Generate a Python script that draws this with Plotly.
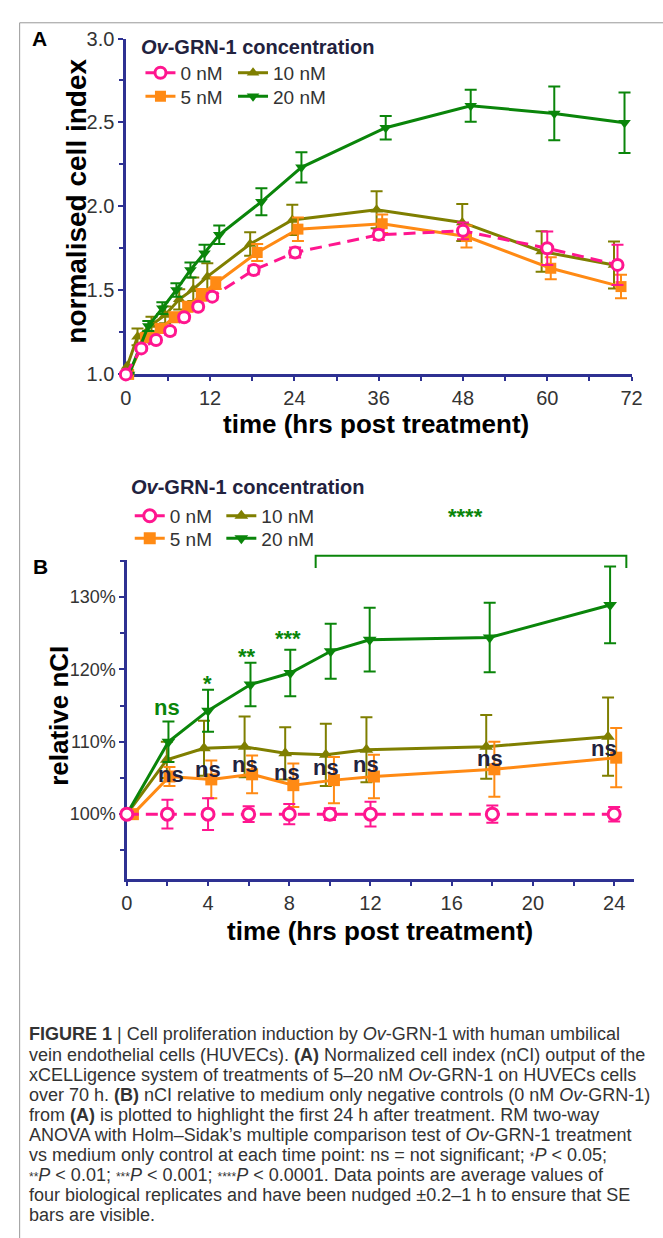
import plotly.graph_objects as go

# ---------------- data: panel A (normalised cell index) ----------------
a_t_0 = [0, 2.2, 4.3, 6.3, 8.3, 10.3, 12.3, 18.2, 24.1, 36.0, 48.0, 60.0, 70.0]
a_v_0 = [1.0, 1.155, 1.205, 1.258, 1.34, 1.403, 1.463, 1.622, 1.726, 1.831, 1.855, 1.751, 1.652]
a_e_0 = [None, 0.015, 0.015, 0.02, 0.02, 0.02, 0.02, 0.025, 0.03, 0.03, 0.05, 0.10, 0.12]

a_t_5 = [0.4, 2.8, 4.9, 6.9, 8.8, 10.75, 12.8, 18.7, 24.5, 36.5, 48.5, 60.5, 70.5]
a_v_5 = [1.0, 1.218, 1.274, 1.34, 1.403, 1.473, 1.543, 1.726, 1.865, 1.897, 1.821, 1.632, 1.523]
a_e_5 = [None, 0.025, 0.025, 0.03, 0.03, 0.035, 0.035, 0.05, 0.07, 0.055, 0.065, 0.065, 0.07]

a_t_10 = [0.2, 1.66, 3.65, 5.6, 7.6, 9.6, 11.6, 17.7, 23.7, 35.7, 47.9, 59.2, 69.5]
a_v_10 = [1.05, 1.224, 1.294, 1.354, 1.447, 1.507, 1.582, 1.776, 1.92, 1.98, 1.905, 1.732, 1.652]
a_e_10 = [None, 0.05, 0.05, 0.05, 0.06, 0.07, 0.08, 0.07, 0.09, 0.11, 0.11, 0.12, 0.14]

a_t_20 = [0.45, 3.2, 5.2, 7.2, 9.2, 11.2, 13.3, 19.3, 25.0, 37.0, 49.1, 61.0, 71.0]
a_v_20 = [1.0, 1.288, 1.394, 1.503, 1.622, 1.722, 1.831, 2.028, 2.233, 2.469, 2.60, 2.554, 2.499]
a_e_20 = [None, 0.03, 0.035, 0.04, 0.045, 0.05, 0.055, 0.08, 0.09, 0.07, 0.095, 0.16, 0.18]

# ---------------- data: panel B (relative nCI, %) ----------------
b_t_0 = [0, 2, 4, 6, 8, 10, 12, 18, 24]
b_v_0 = [100, 100, 100, 100, 100, 100, 100, 100, 100]
b_e_0 = [None, 2.0, 2.2, 1.1, 1.4, 0.8, 1.7, 1.2, 1.0]

b_t_5 = [0.3, 2.1, 4.16, 6.17, 8.2, 10.2, 12.17, 18.1, 24.1]
b_v_5 = [100, 105.2, 104.8, 105.5, 104.0, 104.7, 105.2, 106.2, 107.8]
b_e_5 = [None, 1.3, 2.6, 2.6, 3.0, 3.2, 3.0, 3.8, 4.1]

b_t_10 = [0, 1.97, 3.8, 5.8, 7.8, 9.8, 11.8, 17.7, 23.7]
b_v_10 = [100, 107.5, 109.1, 109.3, 108.4, 108.2, 108.9, 109.3, 110.7]
b_e_10 = [None, 2.5, 3.8, 4.2, 3.6, 4.3, 4.5, 4.4, 5.4]

b_t_20 = [0, 2.05, 4.0, 6.09, 8.05, 10.04, 11.96, 17.87, 23.8]
b_v_20 = [100, 110.0, 114.3, 117.9, 119.5, 122.5, 124.1, 124.4, 128.9]
b_e_20 = [None, 2.8, 2.9, 3.0, 3.2, 3.8, 4.4, 4.8, 5.3]

# significance labels (panel B)
sig_green_labels = ["ns", "*", "**", "***"]
sig_green_x = [2.0, 3.95, 5.9, 7.95]
sig_green_y = [114.8, 118.0, 121.8, 124.2]
ns_x = [2.2, 4.0, 5.8, 7.9, 9.8, 11.8, 17.9, 23.5]
ns_y = [105.5, 106.2, 106.8, 105.8, 106.5, 106.8, 107.7, 109.1]
bracket_x = [9.3, 24.6]
bracket_y = [134.0, 135.7]
bracket_label = "****"

series_names = ["0 nM", "5 nM", "10 nM", "20 nM"]

# ---------------- styling ----------------
W, H = 663, 1238
NAVY = "#2E3192"
PINK = "#FF168F"
ORANGE = "#FF8A14"
OLIVE = "#7F7F00"
GREEN = "#0A850A"
DARK = "#22223E"
TXT = "#333333"
FONT = "Liberation Sans, Arial, sans-serif"

def px(x):
    return x / W

def py(y):
    return 1 - y / H

# plot areas in pixels
A_X = (123, 642); A_Y = (28, 370)
B_X = (124, 645); B_Y = (559, 884)
B_XR = [0, 25]; B_YR = [91, 135.1]

def b_paper_x(h):
    return px(B_X[0] + (h - B_XR[0]) / (B_XR[1] - B_XR[0]) * (B_X[1] - B_X[0]))

def b_paper_y(v):
    return py(B_Y[1] - (v - B_YR[0]) / (B_YR[1] - B_YR[0]) * (B_Y[1] - B_Y[0]))

fig = go.Figure()

specs = {
    "0 nM": dict(color=PINK, symbol="circle", fill="white", dash="12px,7px", col=0, row=0),
    "5 nM": dict(color=ORANGE, symbol="square", fill=ORANGE, dash="solid", col=0, row=1),
    "10 nM": dict(color=OLIVE, symbol="triangle-up", fill=OLIVE, dash="solid", col=1, row=0),
    "20 nM": dict(color=GREEN, symbol="triangle-down", fill=GREEN, dash="solid", col=1, row=1),
}

a_data = {"0 nM": (a_t_0, a_v_0, a_e_0), "5 nM": (a_t_5, a_v_5, a_e_5),
          "10 nM": (a_t_10, a_v_10, a_e_10), "20 nM": (a_t_20, a_v_20, a_e_20)}
b_data = {"0 nM": (b_t_0, b_v_0, b_e_0), "5 nM": (b_t_5, b_v_5, b_e_5),
          "10 nM": (b_t_10, b_v_10, b_e_10), "20 nM": (b_t_20, b_v_20, b_e_20)}

draw_order = ["10 nM", "5 nM", "20 nM", "0 nM"]

# one single-entry legend per series and panel, placed as in the reference grid
legend_pos = {
    "A": dict(cols=[138, 233], rows=[63, 87]),
    "B": dict(cols=[127, 221], rows=[514, 537]),
}
leg_common = dict(orientation="v", xanchor="left", yanchor="middle", bgcolor="rgba(0,0,0,0)",
                  font=dict(size=19, color=TXT, family=FONT), tracegroupgap=0,
                  itemwidth=30, itemclick=False, itemdoubleclick=False)
legend_layout = {}
leg_idx = 0

for panel, data, xa, ya, msize in [("A", a_data, "x", "y", 11), ("B", b_data, "x2", "y2", 12)]:
    for name in draw_order:
        s = specs[name]
        t, v, e = data[name]
        leg_idx += 1
        lname = "legend" if leg_idx == 1 else "legend%d" % leg_idx
        lp = legend_pos[panel]
        legend_layout[lname] = dict(x=px(lp["cols"][s["col"]]), y=py(lp["rows"][s["row"]]), **leg_common)
        fig.add_trace(go.Scatter(
            x=t, y=v, name=name, mode="lines+markers",
            xaxis=xa, yaxis=ya, legend=lname,
            line=dict(color=s["color"], width=3, dash=s["dash"]),
            marker=dict(symbol=s["symbol"], size=msize, color=s["fill"],
                        line=dict(color=s["color"], width=3 if name == "0 nM" else 0)),
            error_y=dict(type="data", array=e, visible=True, color=s["color"],
                         thickness=2, width=6),
            cliponaxis=False, showlegend=True,
        ))

axis_common = dict(showline=True, linecolor=NAVY, linewidth=2.5, showgrid=False,
                   zeroline=False, ticks="outside", tickcolor=NAVY, tickwidth=2,
                   layer="below traces", fixedrange=True)

fig.update_layout(
    width=W, height=H, autosize=False,
    margin=dict(l=0, r=0, t=0, b=0),
    paper_bgcolor="white", plot_bgcolor="white",
    font=dict(family=FONT, color=TXT),
    xaxis=dict(domain=[px(A_X[0]), px(A_X[1])], range=[0, 72], anchor="y",
               tickmode="linear", tick0=0, dtick=12, ticklen=4,
               minor=dict(dtick=6, ticks="outside", ticklen=4, tickcolor=NAVY, tickwidth=2),
               tickfont=dict(size=20, color=TXT), **axis_common),
    yaxis=dict(domain=[py(A_Y[1]), py(A_Y[0])], range=[1, 3], anchor="x",
               tickmode="linear", tick0=1, dtick=0.5, tickformat=".1f", ticklen=5,
               minor=dict(dtick=0.25, ticks="outside", ticklen=4, tickcolor=NAVY, tickwidth=2),
               tickfont=dict(size=20, color=TXT), **axis_common),
    xaxis2=dict(domain=[px(B_X[0]), px(B_X[1])], range=B_XR, anchor="y2",
                tickmode="linear", tick0=0, dtick=4, ticklen=4,
                minor=dict(dtick=2, ticks="outside", ticklen=4, tickcolor=NAVY, tickwidth=2),
                tickfont=dict(size=20, color=TXT), **axis_common),
    yaxis2=dict(domain=[py(B_Y[1]), py(B_Y[0])], range=B_YR, anchor="x2",
                tickmode="linear", tick0=100, dtick=10, ticksuffix="%", ticklen=5,
                minor=dict(dtick=5, tick0=95, ticks="outside", ticklen=4, tickcolor=NAVY, tickwidth=2),
                tickfont=dict(size=18, color=TXT), **axis_common),
    **legend_layout,
)

ann = []
def text(x, y, s, size, color=TXT, bold=False, angle=0, xanchor="center", xref="paper", yref="paper"):
    ann.append(dict(x=x, y=y, xref=xref, yref=yref, text=("<b>%s</b>" % s) if bold else s,
                    showarrow=False, textangle=angle, xanchor=xanchor, yanchor="middle",
                    font=dict(size=size, color=color, family=FONT)))

# panel letters
text(px(34), py(28), "A", 21, "black", True)
text(px(35), py(566), "B", 21, "black", True)
# legend titles
text(px(258), py(37), "<i>Ov</i>-GRN-1 concentration", 20, DARK, True)
text(px(248), py(485), "<i>Ov</i>-GRN-1 concentration", 20, DARK, True)
# axis titles
text(px(380), py(420), "time (hrs post treatment)", 26, "black", True)
text(px(72), py(194), "normalised cell index", 28, "black", True, angle=-90)
text(px(384), py(937), "time (hrs post treatment)", 26, "black", True)
text(px(55), py(718), "relative nCI", 26, "black", True, angle=-90)

# significance labels
for lab, x, y in zip(sig_green_labels, sig_green_x, sig_green_y):
    text(x, y, lab, 22, GREEN, True, xref="x2", yref="y2")
for x, y in zip(ns_x, ns_y):
    text(x, y, "ns", 22, DARK, True, xref="x2", yref="y2")
bx0, bx1 = b_paper_x(bracket_x[0]), b_paper_x(bracket_x[1])
by0, by1 = b_paper_y(bracket_y[0]), b_paper_y(bracket_y[1])
text((bx0 + bx1) / 2 - 6 / W, by1 + 40 / H, bracket_label, 22, GREEN, True)

# caption (asterisks kept small and raised like superscripts)
def st(n):
    return "<span style='font-size:12px'>%s</span>" % ("*" * n)

caption = [
    "<b>FIGURE 1</b> | Cell proliferation induction by <i>Ov</i>-GRN-1 with human umbilical",
    "vein endothelial cells (HUVECs). <b>(A)</b> Normalized cell index (nCI) output of the",
    "xCELLigence system of treatments of 5–20 nM <i>Ov</i>-GRN-1 on HUVECs cells",
    "over 70 h. <b>(B)</b> nCI relative to medium only negative controls (0 nM <i>Ov</i>-GRN-1)",
    "from <b>(A)</b> is plotted to highlight the first 24 h after treatment. RM two-way",
    "ANOVA with Holm–Sidak’s multiple comparison test of <i>Ov</i>-GRN-1 treatment",
    "vs medium only control at each time point: ns = not significant; %s<i>P</i> &lt; 0.05;" % st(1),
    "%s<i>P</i> &lt; 0.01; %s<i>P</i> &lt; 0.001; %s<i>P</i> &lt; 0.0001. Data points are average values of" % (st(2), st(3), st(4)),
    "four biological replicates and have been nudged ±0.2–1 h to ensure that SE",
    "bars are visible.",
]
cap_top, cap_step = 1042, 20.4
for i, line in enumerate(caption):
    text(px(22), py(cap_top + i * cap_step), line, 18, TXT, False, xanchor="left")

fig.update_layout(annotations=ann)

# bracket and frame
fig.add_shape(type="path", xref="paper", yref="paper",
              path=f"M {bx0},{by0} L {bx0},{by1} L {bx1},{by1} L {bx1},{by0}",
              line=dict(color=GREEN, width=2))
fig.add_shape(type="rect", xref="paper", yref="paper", x0=px(14), x1=1.1, y0=-0.1, y1=py(12),
              line=dict(color="#999999", width=1), fillcolor="rgba(0,0,0,0)", layer="below")

fig.write_html("out.html", config={"displayModeBar": False, "staticPlot": True},
               post_script="document.body.style.margin='0';")
